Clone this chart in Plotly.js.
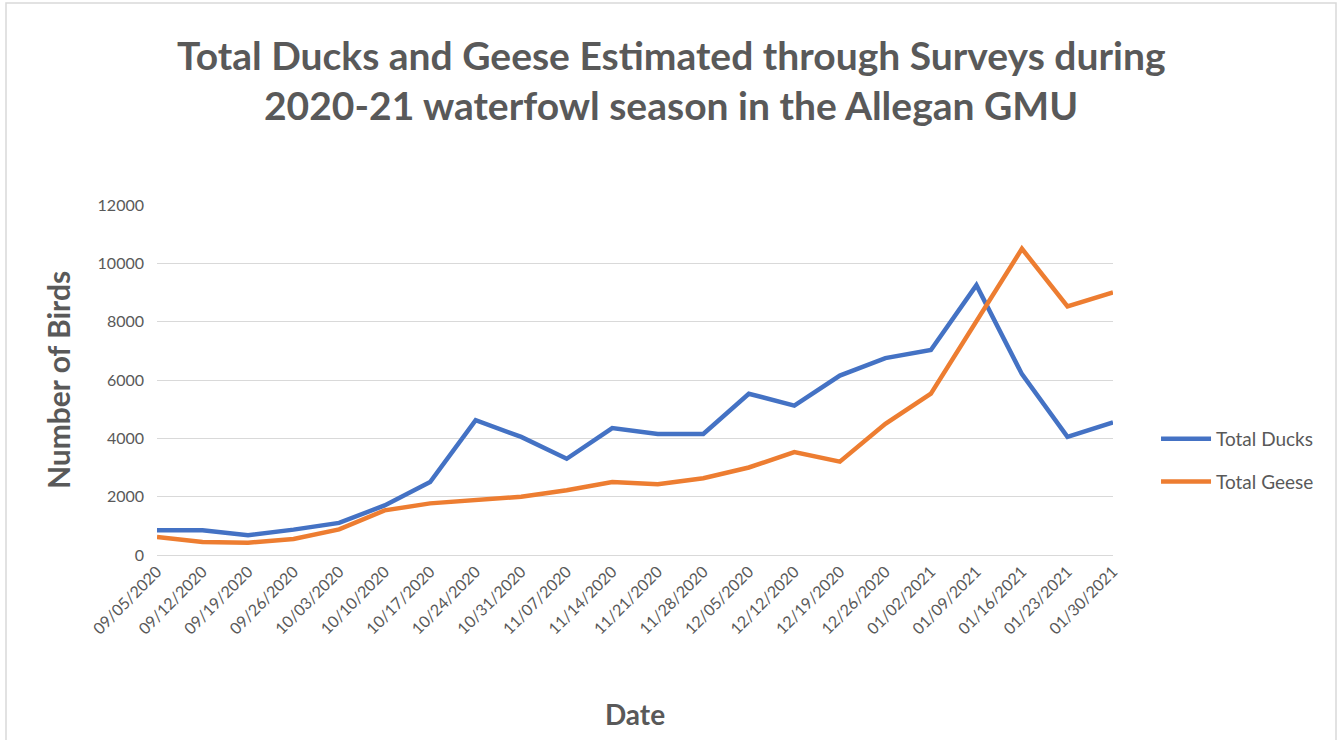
<!DOCTYPE html>
<html>
<head>
<meta charset="utf-8">
<script src="https://cdn.plot.ly/plotly-3.0.1.min.js"></script>
<style>
html,body{margin:0;padding:0;background:#fff;}
#chart{width:1340px;height:740px;}
</style>
</head>
<body>
<div id="chart"></div>
<script>
const dates = ["09/05/2020","09/12/2020","09/19/2020","09/26/2020","10/03/2020","10/10/2020","10/17/2020","10/24/2020","10/31/2020","11/07/2020","11/14/2020","11/21/2020","11/28/2020","12/05/2020","12/12/2020","12/19/2020","12/26/2020","01/02/2021","01/09/2021","01/16/2021","01/23/2021","01/30/2021"];
const totalDucks = [850,850,680,870,1100,1700,2500,4620,4050,3300,4350,4150,4150,5530,5120,6150,6750,7030,9250,6200,4050,4550];
const totalGeese = [620,450,420,550,880,1530,1770,1900,2000,2220,2500,2430,2630,3000,3530,3200,4500,5530,8000,10500,8520,9000];
const yTicks = [0,2000,4000,6000,8000,10000,12000];
const yTickText = ["0","2000","4000","6000","8000","10000","12000"];
const titleLines = ["Total Ducks and Geese Estimated through Surveys during","2020-21 waterfowl season in the Allegan GMU"];

const font = "Lato, 'Open Sans', sans-serif";
const gray = "#595959";

const traces = [
  {x: dates, y: totalDucks, name: "Total Ducks", type: "scatter", mode: "lines",
   legendgroup: "ducks", line: {color: "#4472C4", width: 4.5}},
  {x: dates, y: totalGeese, name: "Total Geese", type: "scatter", mode: "lines",
   legendgroup: "geese", line: {color: "#ED7D31", width: 4.5}}
];

const layout = {
  width: 1340, height: 740,
  margin: {l: 157, r: 227, t: 205, b: 185},
  paper_bgcolor: "#fff", plot_bgcolor: "#fff",
  font: {family: font, color: gray},
  xaxis: {
    type: "category",
    tickvals: dates, ticktext: dates,
    tickangle: -45,
    tickfont: {size: 16, color: gray},
    showgrid: false, zeroline: false,
    showline: true, linecolor: "#d9d9d9", linewidth: 1,
    ticks: "", range: [0, dates.length - 1],
    title: {text: "<b>Date</b>", font: {size: 28, color: gray}, standoff: 68}
  },
  yaxis: {
    range: [0, 12000],
    tickvals: yTicks, ticktext: yTickText,
    tickfont: {size: 16, color: gray},
    showgrid: true, gridcolor: "#d9d9d9", gridwidth: 1,
    zeroline: false, showline: false, ticks: "",
    ticklabelstandoff: 12,
    title: {text: "<b>Number of Birds</b>", font: {size: 30, color: gray}, standoff: 18}
  },
  legend: {
    x: 1.045, xanchor: "left", y: 0.27, yanchor: "middle",
    font: {size: 19, color: gray},
    tracegroupgap: 15, itemwidth: 50
  },
  annotations: [
    {text: "<b>" + titleLines[0] + "</b>", xref: "paper", yref: "paper",
     x: (671-157)/956, y: (555-55)/350, xanchor: "center", yanchor: "middle",
     showarrow: false, font: {size: 39, color: gray, family: font}},
    {text: "<b>" + titleLines[1] + "</b>", xref: "paper", yref: "paper",
     x: (671-157)/956, y: (555-105)/350, xanchor: "center", yanchor: "middle",
     showarrow: false, font: {size: 39, color: gray, family: font}}
  ],
  shapes: [
    {type: "rect", xref: "paper", yref: "paper",
     x0: (6-157)/956, x1: (1336-157)/956, y0: (555-760)/350, y1: (555-3)/350,
     line: {color: "#d9d9d9", width: 1.5}, fillcolor: "rgba(0,0,0,0)", layer: "below"}
  ],
  showlegend: true
};

Plotly.newPlot("chart", traces, layout, {displayModeBar: false, staticPlot: true});
</script>
</body>
</html>
